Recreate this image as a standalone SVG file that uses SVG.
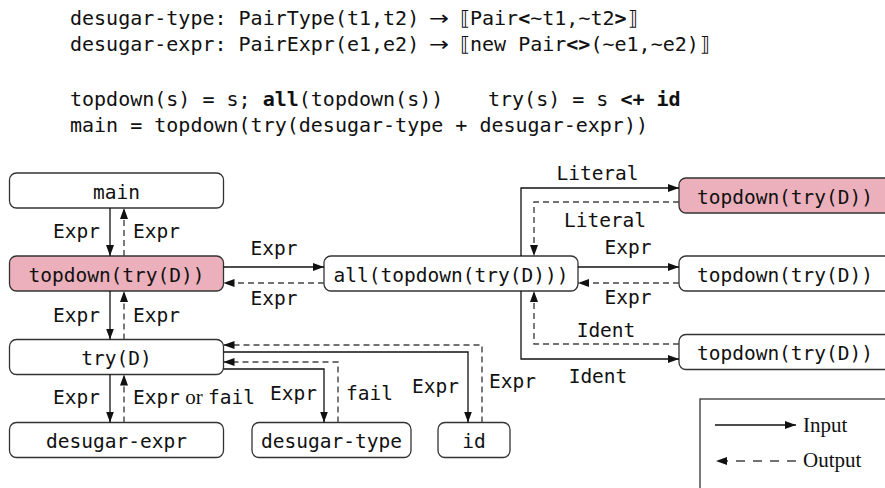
<svg xmlns="http://www.w3.org/2000/svg" width="885" height="488" viewBox="0 0 885 488">
<defs>
<style>
.mono{font-family:"DejaVu Sans Mono","Liberation Mono",monospace;font-size:19.5px;fill:#111}
.code{font-family:"DejaVu Sans Mono","Liberation Mono",monospace;font-size:20px;fill:#111}
.math{font-family:"DejaVu Sans","Noto Sans",sans-serif;font-size:20px;fill:#111}
.serif{font-family:"Liberation Serif","DejaVu Serif",serif;font-size:21px;fill:#111}
.b{font-weight:bold}
.node rect{fill:#fff;stroke:#333;stroke-width:1.3}
.node rect.hl{fill:#ebb0bb}
.node text{text-anchor:middle}
.in{fill:none;stroke:#111;stroke-width:1.3;marker-end:url(#ah)}
.out{fill:none;stroke:#444;stroke-width:1.4;stroke-dasharray:6,4;marker-end:url(#ah)}
.out.lgout{stroke-dasharray:9,8}
.end{text-anchor:end}
.mid{text-anchor:middle}
</style>
<marker id="ah" markerUnits="userSpaceOnUse" markerWidth="11" markerHeight="8" refX="11" refY="4" orient="auto">
<path d="M0,0 L11,4 L0,8 z" fill="#111"/>
</marker>
</defs>
<rect width="885" height="488" fill="#fff"/>

<!-- program text -->
<g id="code">
<text class="code" x="70" y="25">desugar-type: PairType(t1,t2)</text>
<text class="math" x="429" y="25" textLength="20" lengthAdjust="spacingAndGlyphs">→</text>
<text class="math" x="460" y="25">⟦</text>
<text class="code" x="470" y="25">Pair<tspan class="b">&lt;</tspan>~t1,~t2<tspan class="b">&gt;</tspan></text>
<text class="math" x="628" y="25">⟧</text>
<text class="code" x="70" y="51">desugar-expr: PairExpr(e1,e2)</text>
<text class="math" x="429" y="51" textLength="20" lengthAdjust="spacingAndGlyphs">→</text>
<text class="math" x="460" y="51">⟦</text>
<text class="code" x="470" y="51">new Pair<tspan class="b">&lt;&gt;</tspan>(~e1,~e2)</text>
<text class="math" x="700" y="51">⟧</text>
<text class="code" x="70" y="106">topdown(s) = s; <tspan class="b">all</tspan>(topdown(s))</text>
<text class="code" x="488" y="106">try(s) = s <tspan class="b">&lt;+ id</tspan></text>
<text class="code" x="70" y="132">main = topdown(try(desugar-type + desugar-expr))</text>
</g>

<!-- nodes -->
<g id="n-main" class="node"><rect x="9.5" y="173" width="214" height="35" rx="7"/><text class="mono" x="116.5" y="198.5">main</text></g>
<g id="n-topdown" class="node"><rect class="hl" x="9.5" y="256" width="214" height="35" rx="7"/><text class="mono" x="116.5" y="281.5">topdown(try(D))</text></g>
<g id="n-try" class="node"><rect x="9.5" y="339.5" width="214" height="35" rx="7"/><text class="mono" x="116.5" y="365">try(D)</text></g>
<g id="n-dexpr" class="node"><rect x="9.5" y="422.5" width="214" height="35" rx="7"/><text class="mono" x="116.5" y="448">desugar-expr</text></g>
<g id="n-dtype" class="node"><rect x="252" y="422.5" width="159" height="35" rx="7"/><text class="mono" x="331.5" y="448">desugar-type</text></g>
<g id="n-id" class="node"><rect x="438" y="422.5" width="72" height="35" rx="7"/><text class="mono" x="474" y="448">id</text></g>
<g id="n-all" class="node"><rect x="324" y="256" width="254" height="35" rx="7"/><text class="mono" x="451" y="281.5">all(topdown(try(D)))</text></g>
<g id="n-td-lit" class="node"><rect class="hl" x="679" y="178" width="214" height="35" rx="7"/><text class="mono" x="785" y="203.5">topdown(try(D))</text></g>
<g id="n-td-expr" class="node"><rect x="679" y="256" width="214" height="35" rx="7"/><text class="mono" x="785" y="281.5">topdown(try(D))</text></g>
<g id="n-td-ident" class="node"><rect x="679" y="334.5" width="214" height="35" rx="7"/><text class="mono" x="785" y="360">topdown(try(D))</text></g>

<!-- connectors -->
<g id="connectors">
<path class="in" d="M110,208 V256"/>
<path class="out" d="M124,256 V208"/>
<path class="in" d="M110,291 V339.5"/>
<path class="out" d="M124,339.5 V291"/>
<path class="in" d="M110,374.5 V422.5"/>
<path class="out" d="M124,422.5 V374.5"/>
<path class="in" d="M223.5,267 H324"/>
<path class="out" d="M324,283 H223.5"/>
<path class="in" d="M578,267 H679"/>
<path class="out" d="M679,283 H578"/>
<path class="in" d="M521,256 V188 H679"/>
<path class="out" d="M679,202 H534 V256"/>
<path class="in" d="M521,291 V359 H679"/>
<path class="out" d="M679,344 H534 V291"/>
<path class="in" d="M223.5,369 H324 V422.5"/>
<path class="out" d="M338,422.5 V362 H223.5"/>
<path class="in" d="M223.5,352 H468 V422.5"/>
<path class="out" d="M482,422.5 V345 H223.5"/>

<text class="mono end" x="100" y="238">Expr</text>
<text class="mono" x="133" y="238">Expr</text>
<text class="mono end" x="100" y="322">Expr</text>
<text class="mono" x="133" y="322">Expr</text>
<text class="mono end" x="100" y="404">Expr</text>
<text x="133" y="404"><tspan class="mono">Expr</tspan><tspan class="serif"> or </tspan><tspan class="mono">fail</tspan></text>
<text class="mono mid" x="274" y="255">Expr</text>
<text class="mono mid" x="274" y="305">Expr</text>
<text class="mono mid" x="628" y="254">Expr</text>
<text class="mono mid" x="628" y="304">Expr</text>
<text class="mono mid" x="597.5" y="180">Literal</text>
<text class="mono mid" x="605" y="227">Literal</text>
<text class="mono mid" x="606" y="337">Ident</text>
<text class="mono mid" x="598" y="383">Ident</text>
<text class="mono end" x="317" y="400">Expr</text>
<text class="mono" x="346" y="400">fail</text>
<text class="mono end" x="459" y="393">Expr</text>
<text class="mono" x="489" y="388">Expr</text>
</g>

<!-- legend -->
<g id="legend">
<rect x="700" y="399" width="200" height="100" fill="none" stroke="#333" stroke-width="1.3"/>
<path class="in" d="M715,425 H796"/>
<path class="out lgout" d="M796,461 H716"/>
<text class="serif" x="803" y="432">Input</text>
<text class="serif" x="803" y="467">Output</text>
</g>
</svg>
